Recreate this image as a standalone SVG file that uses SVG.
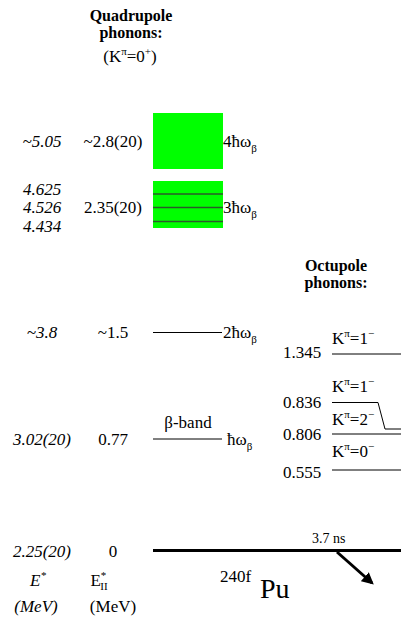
<svg xmlns="http://www.w3.org/2000/svg" width="401" height="621" viewBox="0 0 401 621">
<defs>
<marker id="ah" viewBox="0 0 10 10" refX="8" refY="5" markerWidth="4" markerHeight="4" orient="auto" markerUnits="strokeWidth">
<path d="M0,0 L10,5 L0,10 z" fill="#000"/>
</marker>
</defs>
<g id="quad-heading">
<text style="font-family:'Liberation Serif',serif !important" font-family="Liberation Serif" font-size="16" font-weight="bold" text-anchor="middle" x="131" y="21">Quadrupole</text>
<text style="font-family:'Liberation Serif',serif !important" font-family="Liberation Serif" font-size="16" font-weight="bold" text-anchor="middle" x="131" y="38">phonons:</text>
<text style="font-family:'Liberation Serif',serif !important" font-family="Liberation Serif" font-size="17" text-anchor="middle" x="130" y="62">(K<tspan font-size="11" dy="-7">π</tspan><tspan dy="7">=0</tspan><tspan font-size="11" dy="-7">+</tspan><tspan dy="7">)</tspan></text>
</g>
<g id="oct-heading">
<text style="font-family:'Liberation Serif',serif !important" font-family="Liberation Serif" font-size="16" font-weight="bold" text-anchor="middle" x="336" y="271">Octupole</text>
<text style="font-family:'Liberation Serif',serif !important" font-family="Liberation Serif" font-size="16" font-weight="bold" text-anchor="middle" x="336" y="288">phonons:</text>
</g>
<g id="level-4">
<text style="font-family:'Liberation Serif',serif !important" font-family="Liberation Serif" font-size="17" font-style="italic" text-anchor="middle" x="42" y="147">~5.05</text>
<text style="font-family:'Liberation Serif',serif !important" font-family="Liberation Serif" font-size="17" text-anchor="middle" x="113" y="147">~2.8(20)</text>
<rect x="153" y="113" width="70" height="56" fill="#00ff00"/>
<text style="font-family:'Liberation Serif',serif !important" font-family="Liberation Serif" font-size="17" x="223" y="147">4ħω<tspan font-size="11" dy="5">β</tspan></text>
</g>
<g id="level-3">
<text style="font-family:'Liberation Serif',serif !important" font-family="Liberation Serif" font-size="17" font-style="italic" text-anchor="middle" x="42" y="195">4.625</text>
<text style="font-family:'Liberation Serif',serif !important" font-family="Liberation Serif" font-size="17" font-style="italic" text-anchor="middle" x="42" y="213">4.526</text>
<text style="font-family:'Liberation Serif',serif !important" font-family="Liberation Serif" font-size="17" font-style="italic" text-anchor="middle" x="42" y="232">4.434</text>
<text style="font-family:'Liberation Serif',serif !important" font-family="Liberation Serif" font-size="17" text-anchor="middle" x="113" y="213">2.35(20)</text>
<rect x="153" y="181" width="70" height="47" fill="#00ff00"/>
<g stroke="#2a5a2a" stroke-width="1.3">
<line x1="153" y1="194" x2="223" y2="194"/>
<line x1="153" y1="207.5" x2="223" y2="207.5"/>
<line x1="153" y1="221.5" x2="223" y2="221.5"/>
</g>
<text style="font-family:'Liberation Serif',serif !important" font-family="Liberation Serif" font-size="17" x="223" y="213">3ħω<tspan font-size="11" dy="5">β</tspan></text>
</g>
<g id="level-2">
<text style="font-family:'Liberation Serif',serif !important" font-family="Liberation Serif" font-size="17" font-style="italic" text-anchor="middle" x="42" y="338">~3.8</text>
<text style="font-family:'Liberation Serif',serif !important" font-family="Liberation Serif" font-size="17" text-anchor="middle" x="113" y="338">~1.5</text>
<line stroke="#000" stroke-width="1" x1="153" y1="332.5" x2="222" y2="332.5"/>
<text style="font-family:'Liberation Serif',serif !important" font-family="Liberation Serif" font-size="17" x="223" y="338">2ħω<tspan font-size="11" dy="5">β</tspan></text>
</g>
<g id="level-1">
<text style="font-family:'Liberation Serif',serif !important" font-family="Liberation Serif" font-size="17" font-style="italic" text-anchor="middle" x="42" y="445">3.02(20)</text>
<text style="font-family:'Liberation Serif',serif !important" font-family="Liberation Serif" font-size="17" text-anchor="middle" x="113" y="445">0.77</text>
<text style="font-family:'Liberation Serif',serif !important" font-family="Liberation Serif" font-size="17" text-anchor="middle" x="188" y="428">β-band</text>
<line stroke="#000" stroke-width="1" x1="153" y1="439" x2="222" y2="439"/>
<text style="font-family:'Liberation Serif',serif !important" font-family="Liberation Serif" font-size="17" x="227" y="445">ħω<tspan font-size="11" dy="5">β</tspan></text>
</g>
<g id="oct-1345">
<text style="font-family:'Liberation Serif',serif !important" font-family="Liberation Serif" font-size="17" x="283" y="358">1.345</text>
<text style="font-family:'Liberation Serif',serif !important" font-family="Liberation Serif" font-size="17" x="332" y="344">K<tspan font-size="11" dy="-7">π</tspan><tspan dy="7">=1</tspan><tspan font-size="11" dy="-7">−</tspan></text>
<line stroke="#000" stroke-width="1" x1="332" y1="354" x2="401" y2="354"/>
</g>
<g id="oct-0836">
<text style="font-family:'Liberation Serif',serif !important" font-family="Liberation Serif" font-size="17" x="283" y="408">0.836</text>
<text style="font-family:'Liberation Serif',serif !important" font-family="Liberation Serif" font-size="17" x="332" y="392">K<tspan font-size="11" dy="-7">π</tspan><tspan dy="7">=1</tspan><tspan font-size="11" dy="-7">−</tspan></text>
<polyline stroke="#000" stroke-width="1" fill="none" points="332,402.5 378,402.5 385,429 401,429"/>
</g>
<g id="oct-0806">
<text style="font-family:'Liberation Serif',serif !important" font-family="Liberation Serif" font-size="17" x="283" y="440">0.806</text>
<text style="font-family:'Liberation Serif',serif !important" font-family="Liberation Serif" font-size="17" x="332" y="425">K<tspan font-size="11" dy="-7">π</tspan><tspan dy="7">=2</tspan><tspan font-size="11" dy="-7">−</tspan></text>
<line stroke="#000" stroke-width="1" x1="332" y1="434" x2="401" y2="434"/>
</g>
<g id="oct-0555">
<text style="font-family:'Liberation Serif',serif !important" font-family="Liberation Serif" font-size="17" x="283" y="478">0.555</text>
<text style="font-family:'Liberation Serif',serif !important" font-family="Liberation Serif" font-size="17" x="332" y="457">K<tspan font-size="11" dy="-7">π</tspan><tspan dy="7">=0</tspan><tspan font-size="11" dy="-7">−</tspan></text>
<line stroke="#000" stroke-width="1" x1="332" y1="470" x2="401" y2="470"/>
</g>
<g id="ground">
<text style="font-family:'Liberation Serif',serif !important" font-family="Liberation Serif" font-size="17" font-style="italic" text-anchor="middle" x="42" y="557">2.25(20)</text>
<text style="font-family:'Liberation Serif',serif !important" font-family="Liberation Serif" font-size="17" text-anchor="middle" x="113" y="557">0</text>
<line x1="153" y1="550.5" x2="401" y2="550.5" stroke="#000" stroke-width="3"/>
<text style="font-family:'Liberation Serif',serif !important" font-family="Liberation Serif" font-size="14" x="312" y="543">3.7 ns</text>
<text style="font-family:'Liberation Serif',serif !important" font-family="Liberation Serif" font-size="17" x="220" y="582">240f</text>
<text style="font-family:'Liberation Serif',serif !important" font-family="Liberation Serif" font-size="28" x="260" y="598">Pu</text>
</g>
<g id="connectors">
<line x1="337" y1="552" x2="372" y2="583" stroke="#000" stroke-width="3" marker-end="url(#ah)"/>
</g>
<g id="axis-labels">
<text style="font-family:'Liberation Serif',serif !important" font-family="Liberation Serif" font-size="17" font-style="italic" text-anchor="middle" x="38" y="586">E<tspan font-size="11" dy="-7">*</tspan></text>
<text style="font-family:'Liberation Serif',serif !important" font-family="Liberation Serif" font-size="17" font-style="italic" text-anchor="middle" x="36" y="612">(MeV)</text>
<text style="font-family:'Liberation Serif',serif !important" font-family="Liberation Serif" font-size="17" text-anchor="middle" x="99" y="586">E<tspan font-size="11" dy="-7">*</tspan><tspan font-size="11" dx="-6" dy="11">II</tspan></text>
<text style="font-family:'Liberation Serif',serif !important" font-family="Liberation Serif" font-size="17" text-anchor="middle" x="113" y="612">(MeV)</text>
</g>
</svg>
